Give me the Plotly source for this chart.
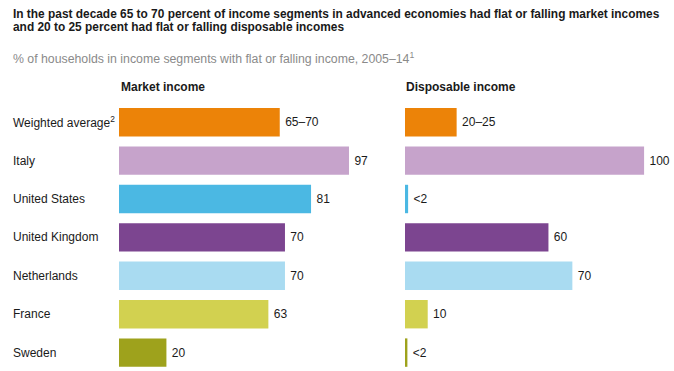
import plotly.graph_objects as go

categories = ["Weighted average<sup>2</sup>", "Italy", "United States", "United Kingdom",
              "Netherlands", "France", "Sweden"]
market_values = [67.8, 97, 81, 70, 70, 63, 20]
market_labels = ["65–70", "97", "81", "70", "70", "63", "20"]
disposable_values = [21.6, 100, 1.3, 60, 70, 9.5, 1.0]
disposable_labels = ["20–25", "100", "<2", "60", "70", "10", "<2"]
colors = ["#EC8308", "#C6A3CB", "#4BB8E3", "#7C4590", "#A9DBF1", "#D2D150", "#9EA21C"]

W, H = 674, 371
FONT = "Liberation Sans, Arial, sans-serif"
ypos = list(range(len(categories)))
PAD = "\u2009"

def X(p):
    return p / W

fig = go.Figure()
fig.add_trace(go.Bar(
    x=market_values, y=ypos, orientation="h", marker=dict(color=colors, line=dict(width=0)),
    text=[PAD + t for t in market_labels], textposition="outside", cliponaxis=False, width=0.74,
    textfont=dict(family=FONT, size=12, color="#1a1a1a"), xaxis="x", yaxis="y",
    hoverinfo="skip"))
fig.add_trace(go.Bar(
    x=disposable_values, y=ypos, orientation="h", marker=dict(color=colors, line=dict(width=0)),
    text=[PAD + t for t in disposable_labels], textposition="outside", cliponaxis=False, width=0.74,
    textfont=dict(family=FONT, size=12, color="#1a1a1a"), xaxis="x2", yaxis="y2",
    hoverinfo="skip"))

top, bottom = 103.0, 371.0
pitch = 38.4
yrange = [-0.5 + (bottom - top) / pitch, -0.5]

axis_common = dict(showgrid=False, zeroline=False, showticklabels=False, showline=False, ticks="")
fig.update_layout(
    width=W, height=H,
    margin=dict(l=0, r=0, t=top, b=H - bottom, pad=0),
    paper_bgcolor="white", plot_bgcolor="white",
    showlegend=False,
    xaxis=dict(domain=[X(119), X(119 + 110 * 2.371)], range=[0, 110], **axis_common),
    xaxis2=dict(domain=[X(405), X(668)], range=[0, 110], **axis_common),
    yaxis=dict(range=yrange, anchor="x", **axis_common),
    yaxis2=dict(range=yrange, anchor="x2", **axis_common),
    font=dict(family=FONT),
)

def Y(p):
    # window pixel y -> paper coordinate
    return 1 - (p - top) / (bottom - top)

ann = []
ann.append(dict(text="<b>In the past decade 65 to 70 percent of income segments in advanced economies had flat or falling market incomes</b>",
                xref="paper", yref="paper", x=X(11), y=Y(14.5), xanchor="left", yanchor="middle",
                showarrow=False, font=dict(family=FONT, size=11.9, color="#1a1a1a")))
ann.append(dict(text="<b>and 20 to 25 percent had flat or falling disposable incomes</b>",
                xref="paper", yref="paper", x=X(11), y=Y(27.5), xanchor="left", yanchor="middle",
                showarrow=False, font=dict(family=FONT, size=11.9, color="#1a1a1a")))
ann.append(dict(text="% of households in income segments with flat or falling income, 2005–14<sup>1</sup>",
                xref="paper", yref="paper", x=X(11), y=Y(57.5), xanchor="left", yanchor="middle",
                showarrow=False, font=dict(family=FONT, size=12.3, color="#8a8a8a")))
ann.append(dict(text="<b>Market income</b>", xref="paper", yref="paper", x=X(119), y=Y(86.5),
                xanchor="left", yanchor="middle", showarrow=False,
                font=dict(family=FONT, size=12, color="#1a1a1a")))
ann.append(dict(text="<b>Disposable income</b>", xref="paper", yref="paper", x=X(404), y=Y(86.5),
                xanchor="left", yanchor="middle", showarrow=False,
                font=dict(family=FONT, size=12, color="#1a1a1a")))
for i, c in enumerate(categories):
    ann.append(dict(text=c, xref="paper", yref="y", x=X(11), y=i, xanchor="left", yanchor="middle",
                    showarrow=False, font=dict(family=FONT, size=12, color="#1a1a1a")))
fig.update_layout(annotations=ann)

fig.write_html("out.html", config={"displayModeBar": False, "staticPlot": True},
               post_script="document.body.style.margin='0px';document.body.style.overflow='hidden';")
